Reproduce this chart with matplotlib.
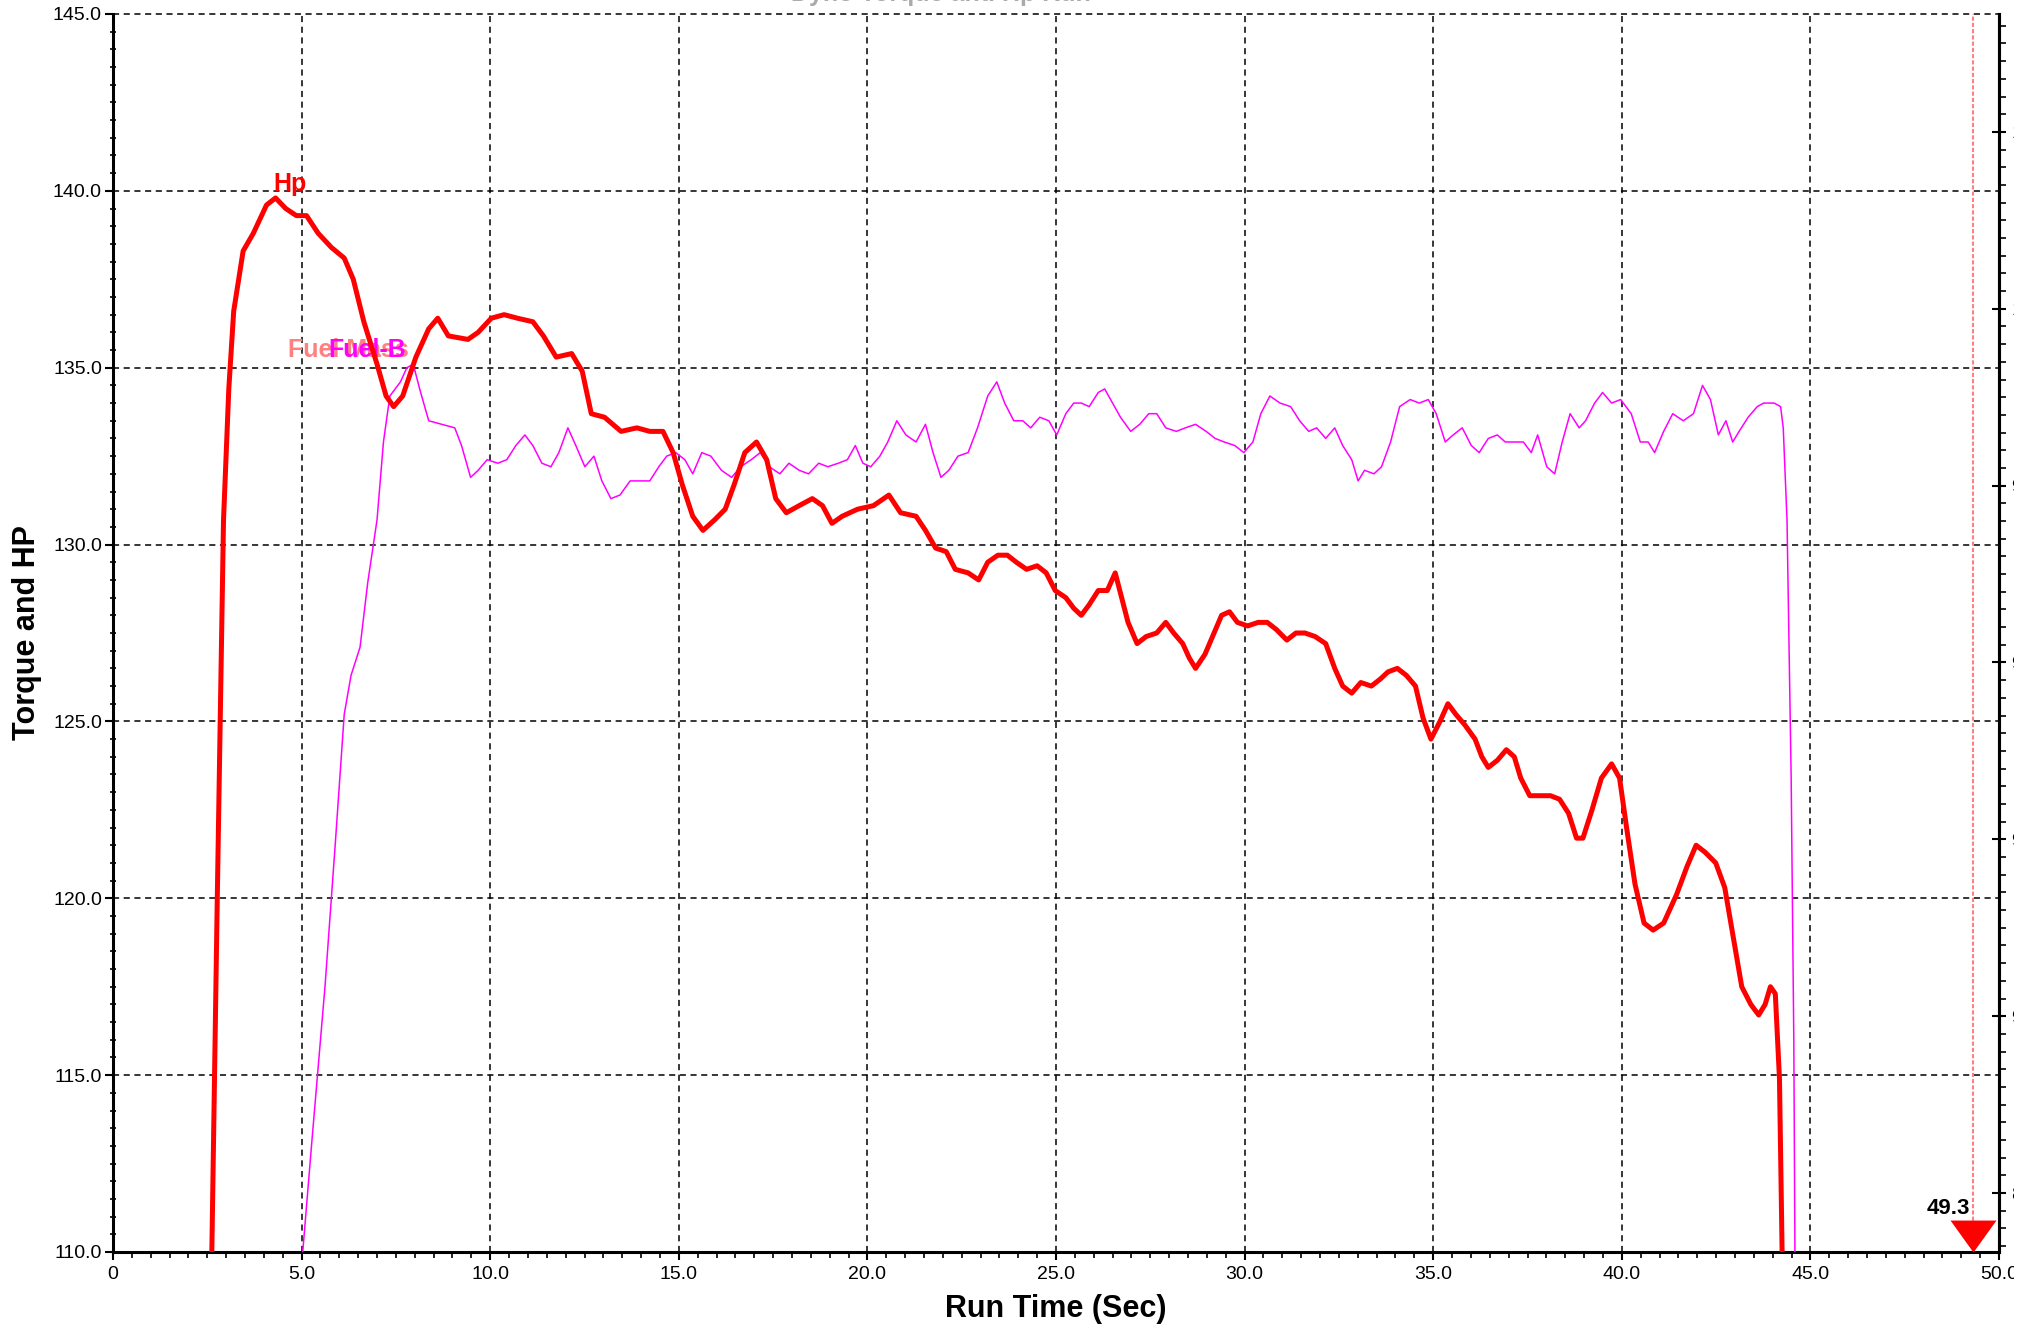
import matplotlib
matplotlib.use("Agg")
import matplotlib.pyplot as plt
from matplotlib.patches import Rectangle
from matplotlib.ticker import MultipleLocator, FormatStrFormatter, FuncFormatter

plt.rcParams["font.family"] = ["Liberation Sans", "DejaVu Sans"]

# Hp curve (Run Time sec, Hp)
hp_t = [2.62, 2.76, 2.93, 3.07, 3.20, 3.45, 3.72, 4.07, 4.31, 4.58, 4.86, 5.13,
        5.44, 5.79, 6.13, 6.37, 6.65, 7.00, 7.24, 7.44, 7.68, 8.03, 8.37, 8.61,
        8.89, 9.41, 9.68, 10.03, 10.37, 10.72, 11.13, 11.41, 11.75, 12.16, 12.44,
        12.68, 13.03, 13.47, 13.89, 14.23, 14.58, 14.85, 15.09, 15.37, 15.64,
        15.95, 16.23, 16.47, 16.75, 17.06, 17.33, 17.57, 17.85, 18.19, 18.54,
        18.81, 19.06, 19.33, 19.74, 20.16, 20.57, 20.88, 21.29, 21.54, 21.81,
        22.09, 22.33, 22.67, 22.95, 23.19, 23.46, 23.71, 23.95, 24.22, 24.50,
        24.74, 24.98, 25.26, 25.47, 25.67, 25.88, 26.12, 26.36, 26.57, 26.74,
        26.91, 27.15, 27.39, 27.67, 27.91, 28.12, 28.36, 28.53, 28.70, 28.95,
        29.15, 29.39, 29.60, 29.81, 30.08, 30.36, 30.60, 30.84, 31.12, 31.36,
        31.60, 31.87, 32.15, 32.39, 32.60, 32.84, 33.08, 33.36, 33.60, 33.80,
        34.05, 34.29, 34.53, 34.73, 34.94, 35.18, 35.39, 35.60, 35.84, 36.11,
        36.29, 36.46, 36.70, 36.94, 37.15, 37.32, 37.56, 37.84, 38.11, 38.35,
        38.59, 38.80, 38.97, 39.21, 39.46, 39.73, 39.94, 40.14, 40.35, 40.59,
        40.83, 41.11, 41.45, 41.73, 41.97, 42.21, 42.49, 42.73, 42.94, 43.18,
        43.42, 43.63, 43.80, 43.94, 44.07, 44.18, 44.25]
hp_val = [110.0, 119.7, 130.7, 134.4, 136.6, 138.3, 138.8, 139.6, 139.8, 139.5,
          139.3, 139.3, 138.8, 138.4, 138.1, 137.5, 136.3, 135.1, 134.2, 133.9,
          134.2, 135.3, 136.1, 136.4, 135.9, 135.8, 136.0, 136.4, 136.5, 136.4,
          136.3, 135.9, 135.3, 135.4, 134.9, 133.7, 133.6, 133.2, 133.3, 133.2,
          133.2, 132.6, 131.7, 130.8, 130.4, 130.7, 131.0, 131.7, 132.6, 132.9,
          132.4, 131.3, 130.9, 131.1, 131.3, 131.1, 130.6, 130.8, 131.0, 131.1,
          131.4, 130.9, 130.8, 130.4, 129.9, 129.8, 129.3, 129.2, 129.0, 129.5,
          129.7, 129.7, 129.5, 129.3, 129.4, 129.2, 128.7, 128.5, 128.2, 128.0,
          128.3, 128.7, 128.7, 129.2, 128.5, 127.8, 127.2, 127.4, 127.5, 127.8,
          127.5, 127.2, 126.8, 126.5, 126.9, 127.4, 128.0, 128.1, 127.8, 127.7,
          127.8, 127.8, 127.6, 127.3, 127.5, 127.5, 127.4, 127.2, 126.5, 126.0,
          125.8, 126.1, 126.0, 126.2, 126.4, 126.5, 126.3, 126.0, 125.1, 124.5,
          125.0, 125.5, 125.2, 124.9, 124.5, 124.0, 123.7, 123.9, 124.2, 124.0,
          123.4, 122.9, 122.9, 122.9, 122.8, 122.4, 121.7, 121.7, 122.5, 123.4,
          123.8, 123.4, 121.9, 120.4, 119.3, 119.1, 119.3, 120.1, 120.9, 121.5,
          121.3, 121.0, 120.3, 119.0, 117.5, 117.0, 116.7, 117.0, 117.5, 117.3,
          114.9, 110.0]

# Fuel-B curve
fuel_t = [5.03, 5.27, 5.62, 5.89, 6.13, 6.31, 6.55, 6.75, 7.00, 7.17, 7.34, 7.62,
          7.79, 7.96, 8.13, 8.37, 8.72, 9.06, 9.24, 9.48, 9.68, 9.92, 10.20, 10.44,
          10.68, 10.92, 11.13, 11.37, 11.61, 11.82, 12.06, 12.27, 12.51, 12.75,
          12.96, 13.20, 13.44, 13.71, 13.96, 14.23, 14.47, 14.68, 14.92, 15.16,
          15.37, 15.61, 15.85, 16.13, 16.40, 16.64, 16.92, 17.16, 17.40, 17.68,
          17.92, 18.19, 18.44, 18.71, 18.95, 19.23, 19.47, 19.68, 19.88, 20.09,
          20.33, 20.54, 20.78, 21.02, 21.29, 21.54, 21.74, 21.95, 22.16, 22.40,
          22.67, 22.92, 23.19, 23.43, 23.64, 23.88, 24.12, 24.33, 24.57, 24.81,
          25.02, 25.26, 25.47, 25.67, 25.88, 26.12, 26.29, 26.50, 26.71, 26.98,
          27.22, 27.46, 27.67, 27.91, 28.19, 28.43, 28.70, 28.98, 29.22, 29.46,
          29.74, 29.98, 30.22, 30.43, 30.67, 30.94, 31.22, 31.46, 31.70, 31.91,
          32.15, 32.39, 32.60, 32.84, 33.01, 33.18, 33.43, 33.63, 33.87, 34.11,
          34.39, 34.63, 34.87, 35.08, 35.32, 35.53, 35.77, 36.01, 36.22, 36.46,
          36.70, 36.91, 37.15, 37.39, 37.60, 37.77, 38.01, 38.22, 38.42, 38.63,
          38.87, 39.04, 39.28, 39.49, 39.73, 39.97, 40.25, 40.49, 40.70, 40.87,
          41.11, 41.35, 41.63, 41.90, 42.14, 42.35, 42.56, 42.76, 42.94, 43.11,
          43.35, 43.59, 43.76, 44.04, 44.21, 44.28, 44.38, 44.49, 44.56, 44.59]
fuel_val = [110.0, 113.1, 117.5, 121.5, 125.2, 126.3, 127.1, 128.9, 130.7, 132.9,
            134.2, 134.6, 135.0, 135.1, 134.4, 133.5, 133.4, 133.3, 132.8, 131.9,
            132.1, 132.4, 132.3, 132.4, 132.8, 133.1, 132.8, 132.3, 132.2, 132.6,
            133.3, 132.8, 132.2, 132.5, 131.8, 131.3, 131.4, 131.8, 131.8, 131.8,
            132.2, 132.5, 132.6, 132.4, 132.0, 132.6, 132.5, 132.1, 131.9, 132.2,
            132.4, 132.6, 132.2, 132.0, 132.3, 132.1, 132.0, 132.3, 132.2, 132.3,
            132.4, 132.8, 132.3, 132.2, 132.5, 132.9, 133.5, 133.1, 132.9, 133.4,
            132.6, 131.9, 132.1, 132.5, 132.6, 133.3, 134.2, 134.6, 134.0, 133.5,
            133.5, 133.3, 133.6, 133.5, 133.1, 133.7, 134.0, 134.0, 133.9, 134.3,
            134.4, 134.0, 133.6, 133.2, 133.4, 133.7, 133.7, 133.3, 133.2, 133.3,
            133.4, 133.2, 133.0, 132.9, 132.8, 132.6, 132.9, 133.7, 134.2, 134.0,
            133.9, 133.5, 133.2, 133.3, 133.0, 133.3, 132.8, 132.4, 131.8, 132.1,
            132.0, 132.2, 132.9, 133.9, 134.1, 134.0, 134.1, 133.7, 132.9, 133.1,
            133.3, 132.8, 132.6, 133.0, 133.1, 132.9, 132.9, 132.9, 132.6, 133.1,
            132.2, 132.0, 132.9, 133.7, 133.3, 133.5, 134.0, 134.3, 134.0, 134.1,
            133.7, 132.9, 132.9, 132.6, 133.2, 133.7, 133.5, 133.7, 134.5, 134.1,
            133.1, 133.5, 132.9, 133.2, 133.6, 133.9, 134.0, 134.0, 133.9, 133.3,
            130.7, 123.4, 116.0, 110.0]

cursor_t = 49.3
x_ticks = [0, 5, 10, 15, 20, 25, 30, 35, 40, 45, 50]
x_labels = ["0", "5.0", "10.0", "15.0", "20.0", "25.0", "30.0", "35.0", "40.0", "45.0", "50.0"]

W, H = 2037, 1325
fig = plt.figure(figsize=(W / 100, H / 100), dpi=100)
ax = fig.add_axes([113 / W, 1 - 1252 / H, (1999 - 113) / W, (1252 - 14) / H])

ax.set_xlim(0, 50)
ax.set_ylim(110, 145)

ax.plot(fuel_t, fuel_val, color="#ff00ff", linewidth=1.1, zorder=3, solid_joinstyle="round")
ax.plot(hp_t, hp_val, color="#ff0000", linewidth=3.6, zorder=4,
        solid_joinstyle="round", solid_capstyle="butt")

# cursor line + marker
ax.axvline(cursor_t, color="#ff8080", linewidth=1.5, linestyle=(0, (2, 1)), zorder=2)
tri = [(-23, 32), (23, 32), (0, 0)]
ax.plot([cursor_t], [110], marker=tri, markersize=46, color="#ff0000",
        markeredgewidth=0, clip_on=False, zorder=6)
ax.annotate("49.3", xy=(cursor_t, 110), xytext=(-3, 38), textcoords="offset pixels",
            ha="right", va="baseline", fontsize=16, fontweight="bold", color="black")

# series labels
ax.text(4.24, 140.0, "Hp", color="#ff0000", fontsize=18, fontweight="bold", va="baseline")
ax.text(4.64, 135.3, "Fuel Mass", color="#ff8080", fontsize=18, fontweight="bold", va="baseline")
ax.text(5.70, 135.3, "Fuel-B", color="#ff00ff", fontsize=18, fontweight="bold", va="baseline")

# grid
ax.grid(True, which="major", color="black", linewidth=1.1, linestyle=(0, (4, 3)))
for gl in ax.get_xgridlines() + ax.get_ygridlines():
    gl.set_clip_on(False)
ax.set_axisbelow(True)

ax.set_xticks(x_ticks)
ax.set_xticklabels(x_labels)
ax.xaxis.set_minor_locator(MultipleLocator(0.5))
ax.yaxis.set_major_locator(MultipleLocator(5))
ax.yaxis.set_minor_locator(MultipleLocator(0.5))
ax.yaxis.set_major_formatter(FormatStrFormatter("%.1f"))
ax.tick_params(axis="both", which="major", labelsize=14, colors="black", width=1.5)
ax.tick_params(axis="x", which="major", direction="out", length=6, pad=4)
ax.tick_params(axis="x", which="minor", direction="out", length=4, width=1.2)
ax.tick_params(axis="y", which="major", direction="out", length=6, pad=2)
ax.tick_params(axis="y", which="minor", direction="inout", length=5, width=1.2)

for s in ["left", "bottom"]:
    ax.spines[s].set_linewidth(2.2)
ax.spines["top"].set_visible(False)
ax.spines["right"].set_linewidth(2.2)

# secondary axis on the right (labels run off the visible edge)
ax2 = ax.twinx()
ax2.set_ylim(86, 107)
ax2.yaxis.set_major_locator(MultipleLocator(3))
ax2.yaxis.set_minor_locator(MultipleLocator(0.3))
ax2.yaxis.set_major_formatter(FuncFormatter(lambda v, p: f"{v:.1f}"))
ax2.tick_params(axis="y", which="major", direction="inout", length=10, width=1.5, labelsize=14, pad=4)
ax2.tick_params(axis="y", which="minor", direction="out", length=5, width=1.2)
for s in ax2.spines.values():
    s.set_visible(False)
ax2.spines["right"].set_visible(True)
ax2.spines["right"].set_linewidth(2.2)

ax.set_xlabel("Run Time (Sec)", fontsize=22, fontweight="bold", labelpad=8)
ax.set_ylabel("Torque and HP", fontsize=22, fontweight="bold", labelpad=8)

# title mostly above the top edge of the figure
fig.text(0.462, 1 - 1 / H, "Dyno Torque and Hp Run", ha="center", va="baseline",
         fontsize=18, fontweight="bold", color="#aaaaaa")

# the original capture is cut off a little before the right edge
fig.patches.append(Rectangle((2014 / W, 0), 1 - 2014 / W, 1, transform=fig.transFigure,
                             facecolor="white", edgecolor="none", zorder=100))

fig.savefig("out.png", dpi=100)
